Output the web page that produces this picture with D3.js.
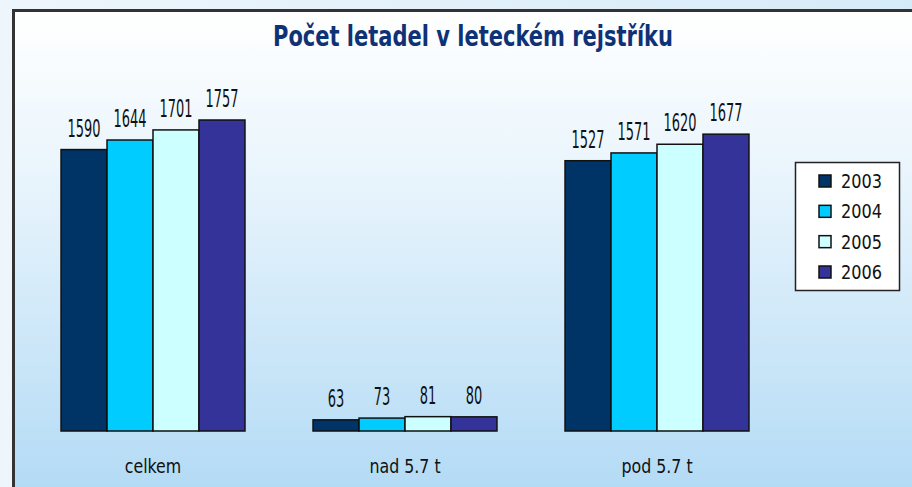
<!DOCTYPE html>
<html>
<head>
<meta charset="utf-8">
<script src="https://cdn.jsdelivr.net/npm/d3@7"></script>
<style>
  body { margin: 0; padding: 0; overflow: hidden; }
  svg { display: block; }
</style>
</head>
<body>
<div id="chart"></div>
<script>
// data
var categories = ["celkem", "nad 5.7 t", "pod 5.7 t"];
var years = ["2003", "2004", "2005", "2006"];
var v2003 = [1590, 63, 1527];
var v2004 = [1644, 73, 1571];
var v2005 = [1701, 81, 1620];
var v2006 = [1757, 80, 1677];
var chartTitle = "Počet letadel v leteckém rejstříku";

var colors = ["#003366", "#00ccff", "#ccffff", "#333399"];
var seriesValues = [v2003, v2004, v2005, v2006];

var svg_width = 912;
var svg_height = 487;
var fontNarrow = "'Liberation Sans Narrow', 'DejaVu Sans Condensed', 'Arial Narrow', sans-serif";

var svg = d3.select("#chart")
  .append("svg")
  .attr("width", svg_width)
  .attr("height", svg_height);

var defs = svg.append("defs");
var outerGrad = defs.append("linearGradient")
  .attr("id", "outerGrad").attr("x1", 0).attr("y1", 0).attr("x2", 1).attr("y2", 0);
outerGrad.append("stop").attr("offset", "0%").attr("stop-color", "#eef6fc");
outerGrad.append("stop").attr("offset", "100%").attr("stop-color", "#d6ebf8");

var innerGrad = defs.append("linearGradient")
  .attr("id", "innerGrad").attr("x1", 0).attr("y1", 0).attr("x2", 0).attr("y2", 1);
innerGrad.append("stop").attr("offset", "0%").attr("stop-color", "#ffffff");
innerGrad.append("stop").attr("offset", "35%").attr("stop-color", "#e8f4fc");
innerGrad.append("stop").attr("offset", "100%").attr("stop-color", "#b2daf5");

// background + frame
svg.append("rect")
  .attr("width", svg_width).attr("height", svg_height)
  .attr("fill", "url(#outerGrad)");

svg.append("rect")
  .attr("x", 13.5).attr("y", 10.5)
  .attr("width", svg_width).attr("height", svg_height)
  .attr("fill", "url(#innerGrad)")
  .attr("stroke", "#333333")
  .attr("stroke-width", 3);

// title
svg.append("text")
  .attr("x", 473)
  .attr("y", 46)
  .attr("text-anchor", "middle")
  .attr("font-family", fontNarrow)
  .attr("font-weight", "bold")
  .attr("font-size", 29)
  .attr("textLength", 400)
  .attr("lengthAdjust", "spacingAndGlyphs")
  .attr("fill", "#0f3276")
  .text(chartTitle);

// scales
var x0 = d3.scaleBand()
  .domain(categories)
  .range([27, 783])
  .paddingInner(0.27)
  .paddingOuter(0.135);

var x1 = d3.scaleBand()
  .domain(years)
  .range([0, x0.bandwidth()])
  .padding(0);

var y = d3.scaleLinear()
  .domain([0, 2000])
  .range([431, 77]);

// build table
var rows = [];
categories.forEach(function(cat, i) {
  years.forEach(function(yr, j) {
    rows.push({ cat: cat, year: yr, value: seriesValues[j][i], color: colors[j] });
  });
});

var bars = svg.append("g");
bars.selectAll("rect")
  .data(rows)
  .enter()
  .append("rect")
  .attr("x", d => x0(d.cat) + x1(d.year))
  .attr("y", d => y(d.value))
  .attr("width", x1.bandwidth())
  .attr("height", d => y(0) - y(d.value))
  .attr("fill", d => d.color)
  .attr("stroke", "#111111")
  .attr("stroke-width", 1.5);

// value labels (condensed look)
bars.selectAll("text.val")
  .data(rows)
  .enter()
  .append("text")
  .attr("class", "val")
  .attr("transform", d => `translate(${x0(d.cat) + x1(d.year) + x1.bandwidth() / 2}, ${y(d.value) - 13}) scale(0.6, 1)`)
  .attr("text-anchor", "middle")
  .attr("font-family", fontNarrow)
  .attr("font-size", 24)
  .attr("fill", "#111111")
  .text(d => d.value);

// category axis labels
var xAxis = d3.axisBottom(x0).tickSize(0).tickPadding(0);
var axisG = svg.append("g")
  .attr("transform", "translate(0, 457)")
  .call(xAxis);
axisG.select(".domain").remove();
axisG.selectAll("text")
  .attr("dy", "0.78em")
  .attr("transform", "scale(0.88, 1)")
  .attr("font-family", fontNarrow)
  .attr("font-size", 20)
  .attr("fill", "#111111");

// legend
var legend = svg.append("g");
legend.append("rect")
  .attr("x", 795.5).attr("y", 162.5)
  .attr("width", 104).attr("height", 128)
  .attr("fill", "#ffffff")
  .attr("stroke", "#222222")
  .attr("stroke-width", 1.5);

var legendY = d3.scalePoint()
  .domain(years)
  .range([181, 272]);

var items = legend.selectAll("g.item")
  .data(years)
  .enter()
  .append("g")
  .attr("class", "item")
  .attr("transform", d => `translate(0, ${legendY(d)})`);

items.append("rect")
  .attr("x", 819).attr("y", -6)
  .attr("width", 12).attr("height", 12)
  .attr("fill", (d, i) => colors[i])
  .attr("stroke", "#111111")
  .attr("stroke-width", 1.5);

items.append("text")
  .attr("x", 841)
  .attr("y", 7)
  .attr("font-family", fontNarrow)
  .attr("font-size", 20)
  .attr("textLength", 41)
  .attr("lengthAdjust", "spacingAndGlyphs")
  .attr("fill", "#111111")
  .text(d => d);
</script>
</body>
</html>
